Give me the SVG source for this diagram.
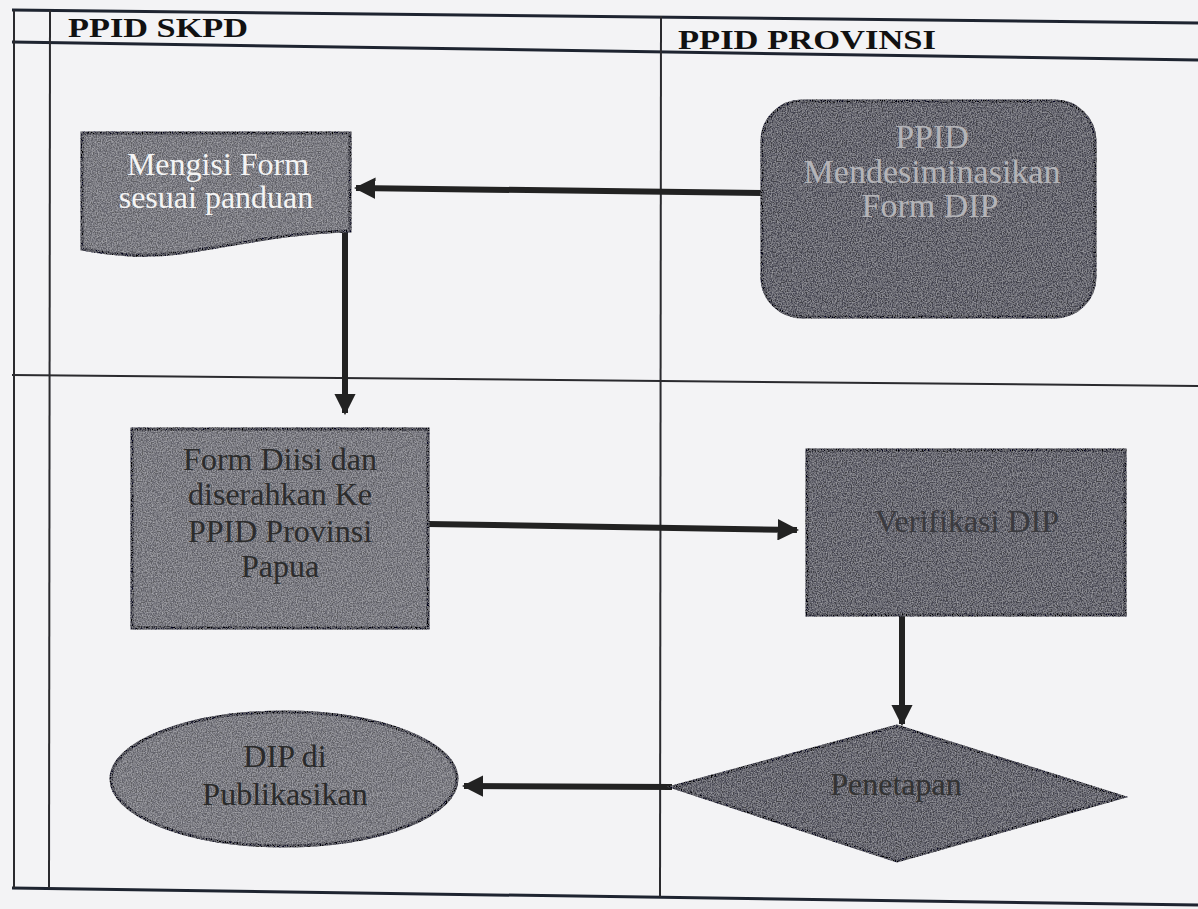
<svg xmlns="http://www.w3.org/2000/svg" width="1198" height="909" viewBox="0 0 1198 909">
<style>
.grid{stroke:#2a2a2e;stroke-width:2;fill:none}
.gridh{stroke:#1e2430;stroke-width:3;fill:none}
.hdr{font-family:'Liberation Serif','Times New Roman','DejaVu Serif',serif;font-weight:bold;font-size:27px;fill:#111}
.node{stroke:#111;stroke-width:3}
.lbl{font-family:'Liberation Serif','Times New Roman','DejaVu Serif',serif;font-weight:normal;font-size:32px;text-anchor:middle}
.conn{stroke:#222;stroke-width:6;fill:none}
</style>
<defs>
<marker id="ah" viewBox="0 0 10 10" refX="9" refY="5" markerWidth="3.6" markerHeight="3.6" orient="auto" markerUnits="strokeWidth">
<path d="M0,0 L10,5 L0,10 Z" fill="#222"/>
</marker>
<filter id="grain" x="-5%" y="-5%" width="110%" height="110%">
<feTurbulence type="fractalNoise" baseFrequency="0.8" numOctaves="2" seed="3" result="n"/>
<feColorMatrix in="n" type="matrix" values="1.6 0 0 0 -0.55  1.6 0 0 0 -0.55  1.6 0 0 0 -0.5  0 0 0 0 0.35" result="g"/>
<feComposite in="g" in2="SourceGraphic" operator="in" result="gi"/>
<feMerge><feMergeNode in="SourceGraphic"/><feMergeNode in="gi"/></feMerge>
</filter>
</defs>
<rect width="1198" height="909" fill="#f3f3f5"/>
<g id="table">
<line class="gridh" x1="12" y1="10" x2="1198" y2="23"/>
<line class="gridh" x1="12" y1="42" x2="1198" y2="60"/>
<line class="grid" x1="12" y1="375" x2="1198" y2="386"/>
<line class="gridh" x1="12" y1="888" x2="1198" y2="905"/>
<line class="grid" x1="14" y1="10" x2="14" y2="888"/>
<line class="grid" x1="50" y1="10" x2="49" y2="888"/>
<line class="grid" x1="661" y1="16" x2="660" y2="897"/>
<text class="hdr" x="68" y="37" textLength="180" lengthAdjust="spacingAndGlyphs">PPID SKPD</text>
<text class="hdr" x="678" y="49" textLength="258" lengthAdjust="spacingAndGlyphs">PPID PROVINSI</text>
</g>
<g id="connectors">
<line class="conn" x1="762" y1="193" x2="356" y2="188" marker-end="url(#ah)"/>
<line class="conn" x1="345" y1="232" x2="345" y2="413" marker-end="url(#ah)"/>
<line class="conn" x1="428" y1="524" x2="797" y2="530" marker-end="url(#ah)"/>
<line class="conn" x1="902" y1="615" x2="902" y2="724" marker-end="url(#ah)"/>
<line class="conn" x1="672" y1="787" x2="464" y2="786" marker-end="url(#ah)"/>
</g>
<g id="n1">
<path class="node" d="M82,133 L350,133 L350,231 C290,232 240,244 180,253 C140,258 110,254 82,249 Z" fill="#76767a" filter="url(#grain)"/>
<text class="lbl" x="218" y="175" fill="#f4f4f4">Mengisi  Form</text>
<text class="lbl" x="216" y="208" fill="#f4f4f4">sesuai panduan</text>
</g>
<g id="n2">
<rect class="node" x="762" y="101" width="333" height="216" rx="40" ry="40" fill="#525258" filter="url(#grain)"/>
<text class="lbl" x="932" y="148" fill="#b4b4b8" style="font-size:34px">PPID</text>
<text class="lbl" x="932" y="183" fill="#b4b4b8" style="font-size:34px">Mendesiminasikan</text>
<text class="lbl" x="930" y="217" fill="#b4b4b8" style="font-size:34px">Form DIP</text>
</g>
<g id="n3">
<rect class="node" x="132" y="429" width="296" height="199" fill="#76767a" filter="url(#grain)"/>
<text class="lbl" x="280" y="470" fill="#2c2c2c">Form Diisi dan</text>
<text class="lbl" x="280" y="505" fill="#2c2c2c">diserahkan Ke</text>
<text class="lbl" x="280" y="542" fill="#2c2c2c">PPID Provinsi</text>
<text class="lbl" x="280" y="577" fill="#2c2c2c">Papua</text>
</g>
<g id="n4">
<rect class="node" x="807" y="450" width="318" height="165" fill="#56565c" filter="url(#grain)"/>
<text class="lbl" x="967" y="532" fill="#3a3a3e">Verifikasi DIP</text>
</g>
<g id="n5">
<path class="node" d="M672,787 L897,726 L1123,797 L897,861 Z" fill="#56565c" filter="url(#grain)"/>
<text class="lbl" x="896" y="795" fill="#333">Penetapan</text>
</g>
<g id="n6">
<ellipse class="node" cx="284" cy="779" rx="173" ry="67" fill="#78787c" filter="url(#grain)"/>
<text class="lbl" x="285" y="767" fill="#2a2a2a">DIP di</text>
<text class="lbl" x="285" y="805" fill="#2a2a2a">Publikasikan</text>
</g>
</svg>
